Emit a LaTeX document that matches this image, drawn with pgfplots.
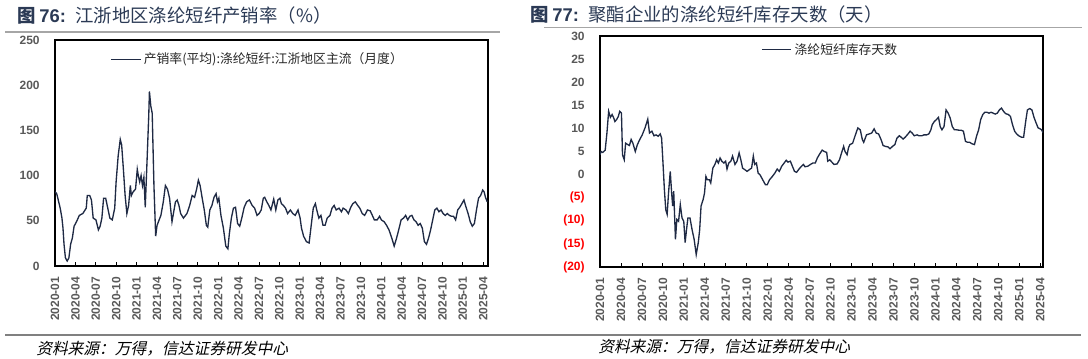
\documentclass[border=0pt]{standalone}
\usepackage{pgfplots}
\usepackage{pgfplotstable}
\pgfplotsset{compat=1.18}
\usepackage{fontspec}
\setmainfont{Liberation Sans}
\newfontfamily\cjk{Noto Sans CJK SC}
\newfontfamily\cjkit{Noto Sans CJK SC}[FakeSlant=0.22]
\definecolor{ln}{HTML}{1F2A44}
\definecolor{ttl}{HTML}{2B3A55}
\definecolor{tk}{HTML}{595959}

\pgfplotstableread{
xd v
160 82
165 80
175 64
180 53
183 42
186 24
190 9
195 5.5
200 9
205 24
210 31
215 44
222 49
230 56
240 58
245 61
250 64
253 78
260 78
265 73
270 53
278 51
285 40
290 44
295 53
300 75
306 75
312 64
318 53
325 51
332 64
336 93
342 122
348 140
352 134
357 107
362 78
367 58
372 67
377 89
380 78
385 82
392 85
397 107
400 100
404 93
408 100
412 89
416 98
420 65
425 115
430 166
432 193
436 177
440 169
445 89
450 33
454 45
460 51
465 56
472 71
478 89
484 85
490 75
497 49
502 60
507 71
512 73
517 67
522 58
530 53
540 58
548 67
555 78
562 76
568 85
573 95
578 89
584 75
590 62
596 45
600 43
606 62
612 67
618 76
624 80
628 71
632 75
638 56
645 42
652 22
658 19
662 35
668 53
674 64
680 65
686 47
692 44
698 53
705 65
712 71
720 73
728 67
735 64
742 56
748 58
754 62
760 75
764 76
770 71
776 67
782 62
790 74
796 62
802 73
808 75
812 69
818 67
824 64
830 58
838 62
845 58
852 56
860 62
866 53
870 42
876 33
884 27
892 25.5
898 45
904 64
910 69
914 62
920 53
926 56
932 45
938 45
944 53
952 56
958 64
964 67
970 62
978 64
985 60
990 64
998 62
1005 58
1012 65
1018 69
1025 71
1032 67
1038 64
1045 58
1052 56
1060 62
1068 61
1074 56
1080 51
1088 51
1095 55
1100 51
1108 49
1115 45
1122 40
1130 31
1137 22
1144 31
1150 40
1157 51
1164 53
1170 56
1176 51
1182 55
1188 56
1194 51
1200 49
1206 45
1212 47
1218 42
1224 27
1230 24
1236 31
1242 40
1248 51
1254 62
1260 64
1266 60
1272 62
1278 58
1284 56
1290 58
1296 56
1302 55
1308 55
1314 51
1320 62
1326 65
1332 69
1338 73
1344 65
1350 58
1356 49
1362 44
1368 47
1374 62
1380 75
1386 78
1392 84
1396 82
1400 76
1405 71
}\tabA

\pgfplotstableread{
xd v
160 4.3
163 5.0
168 4.8
175 5.3
180 9.0
185 13.7
190 12.4
195 13.0
200 12.2
203 11.5
208 11.9
213 12.6
217 13.7
222 13.3
225 4.3
230 3.2
234 6.8
240 6.5
245 6.3
250 7.6
255 6.8
262 5.0
268 6.5
275 7.6
282 8.6
290 10.1
298 12.0
303 9.0
310 9.4
316 8.4
322 8.6
328 8.3
334 8.8
338 7.9
342 2.5
346 -3.2
350 -7.6
354 -8.6
358 -4.0
363 0.7
367 -4.0
370 -6.8
373 -3.6
378 -14.0
382 -9.7
387 -10.1
392 -6.5
397 -9.4
402 -10.1
406 -14.7
410 -11.9
414 -9.4
420 -9.4
426 -11.9
432 -14.0
438 -17.3
444 -14.7
448 -11.9
452 -6.8
458 -5.4
462 -4.0
466 -0.4
470 -1.1
476 -1.1
480 -1.8
486 1.4
492 2.2
497 3.2
502 2.5
507 3.6
512 2.9
518 2.5
523 2.9
527 1.2
532 2.5
538 2.9
543 4.0
550 2.2
556 2.9
562 4.7
567 3.2
572 1.4
578 1.1
585 0.7
592 1.1
598 1.4
603 4.0
607 2.2
612 2.5
617 0.3
622 0.0
630 -1.1
638 -2.2
643 -2.2
650 -1.1
658 -0.4
665 0.3
672 1.2
678 0.7
685 1.8
692 2.5
698 3.1
703 2.7
710 2.9
716 1.8
722 0.7
728 0.5
735 1.2
742 1.8
748 2.2
752 1.7
760 1.8
768 2.2
775 2.5
782 2.5
788 3.6
795 4.5
802 5.3
808 5.0
815 4.8
818 2.9
824 3.2
830 2.7
836 2.2
845 2.3
852 3.2
858 4.7
864 6.1
868 5.0
874 4.3
878 5.8
882 6.5
890 6.8
898 8.6
905 10.1
912 9.7
918 7.6
922 7.0
930 8.6
938 8.8
945 9.0
952 9.9
958 9.0
965 8.8
972 7.6
978 6.3
985 6.1
992 6.0
998 5.6
1005 6.1
1012 6.5
1018 7.9
1025 8.4
1030 8.1
1036 7.7
1042 8.1
1050 8.8
1056 9.4
1062 9.0
1068 8.4
1076 8.6
1082 8.4
1090 8.4
1096 8.6
1104 8.6
1110 8.8
1116 9.7
1120 10.8
1126 11.5
1132 11.9
1138 12.4
1143 10.4
1148 9.7
1154 10.4
1160 14.0
1166 13.3
1172 12.2
1178 10.4
1184 9.7
1190 9.7
1198 9.6
1204 9.6
1210 9.4
1216 7.2
1222 7.0
1228 7.0
1234 6.7
1242 6.5
1248 8.3
1254 9.7
1260 11.9
1266 13.0
1272 13.5
1278 13.5
1284 13.3
1290 13.5
1296 13.3
1302 13.1
1308 13.3
1314 14.0
1320 14.4
1326 13.7
1332 13.2
1340 13.0
1346 12.6
1352 10.8
1358 9.4
1364 8.8
1370 8.4
1378 8.1
1384 8.1
1390 11.5
1395 14.0
1402 14.3
1408 14.0
1414 12.4
1420 11.2
1426 10.1
1432 9.9
1436 9.7
1440 9.1
}\tabB

\pgfplotsset{
  mystyle/.style={
    scale only axis,
    axis line style={line width=1pt, black},
    xmin=0,
    xtick={0,3,...,63},
    xticklabels={2020-01,2020-04,2020-07,2020-10,2021-01,2021-04,2021-07,2021-10,2022-01,2022-04,2022-07,2022-10,2023-01,2023-04,2023-07,2023-10,2024-01,2024-04,2024-07,2024-10,2025-01,2025-04},
    x tick label style={rotate=90, anchor=east, font=\fontsize{9}{10}\selectfont\bfseries, text=tk, inner sep=1pt},
    y tick label style={font=\fontsize{9}{10}\selectfont\bfseries, text=tk},
    xtick pos=bottom,
    ytick pos=left,
    xtick align=inside,
    major tick length=3pt,
    x tick style={black, line width=0.6pt},
    y tick style={draw=none},
    /pgf/number format/assume math mode=true,
    legend style={draw=none, fill=none, inner sep=0pt, font=\cjk\fontsize{9.6}{11}\selectfont, text=black!85},
    legend image code/.code={\draw[#1] (0cm,0cm) -- (0.78cm,0cm);},
    legend cell align=left,
    xticklabel shift=7pt,
    yticklabel shift=8pt,
  }
}

\begin{document}
\begin{tikzpicture}[x=0.75pt, y=0.75pt]
\path[use as bounding box] (0,0) rectangle (1088,358);

% titles
\node[anchor=west, inner sep=0pt, text=ttl] at (17,342.5) {{\cjk\bfseries\fontsize{13.8}{15}\selectfont 图} {\bfseries\fontsize{13.8}{15}\selectfont 76:}\hspace{7pt}{\cjk\fontsize{13.8}{15}\selectfont 江浙地区涤纶短纤产销率（\%）}};
\node[anchor=west, inner sep=0pt, text=ttl] at (530,343) {{\cjk\bfseries\fontsize{13.8}{15}\selectfont 图} {\bfseries\fontsize{13.8}{15}\selectfont 77:}\hspace{7pt}{\cjk\fontsize{13.8}{15}\selectfont 聚酯企业的涤纶短纤库存天数（天）}};
\draw[black!35, line width=1pt] (5,326) -- (500,326);
\draw[black!35, line width=1pt] (544,330.5) -- (1082,330.5);
\draw[black!50, line width=1.4pt] (5,23) -- (1081,23);
\node[anchor=west, inner sep=0pt] at (36,9) {\cjkit\fontsize{11.8}{13}\selectfont 资料来源：万得，信达证券研发中心};
\node[anchor=west, inner sep=0pt] at (598,11) {\cjkit\fontsize{11.8}{13}\selectfont 资料来源：万得，信达证券研发中心};

\begin{axis}[mystyle,
  at={(41.25pt,69pt)}, anchor=south west,
  width=324.75pt, height=169.5pt,
  xmax=63.7,
  ymin=0, ymax=250, ytick={0,50,...,250},
  yticklabels={0,50,100,150,200,250},
  legend style={at={(0.127,0.914)}, anchor=west},
]
\addplot[ln, line width=1pt, no markers] table[x expr={(\thisrow{xd}-160)/19.58}, y=v] {\tabA};
\addlegendentry{产销率(平均):涤纶短纤:江浙地区主流（月度）}
\end{axis}

\begin{axis}[mystyle,
  at={(450pt,68.25pt)}, anchor=south west,
  width=332.25pt, height=173.25pt,
  xmax=63.4,
  ymin=-20, ymax=30, ytick={-20,-15,...,30},
  yticklabels={\textcolor{red}{(20)},\textcolor{red}{(15)},\textcolor{red}{(10)},\textcolor{red}{(5)},0,5,10,15,20,25,30},
  legend style={at={(0.363,0.941)}, anchor=west},
]
\addplot[ln, line width=1pt, no markers] table[x expr={(\thisrow{xd}-160)/20.19}, y=v] {\tabB};
\addlegendentry{涤纶短纤库存天数}
\end{axis}
\end{tikzpicture}
\end{document}
